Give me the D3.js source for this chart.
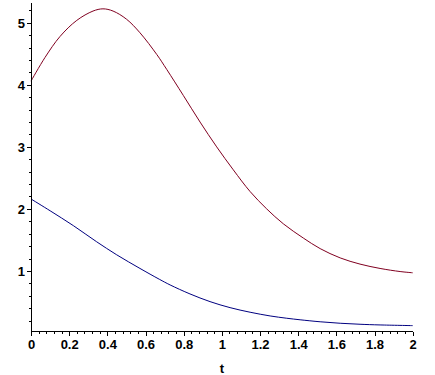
<!DOCTYPE html>
<html>
<head>
<meta charset="utf-8">
<script src="https://cdn.jsdelivr.net/npm/d3@7"></script>
<style>
    body { margin: 0; background: #fff; }
    svg { display: block; }
    .tick text { font-family: "Liberation Sans", Arial, sans-serif; font-weight: bold; font-size: 13px; }
</style>
</head>
<body>
<script>
// values
var tRed = [0, 0.073, 0.152, 0.24, 0.325, 0.377, 0.43, 0.50, 0.571, 0.659, 0.711, 0.798, 0.886,
            0.973, 1.06, 1.148, 1.235, 1.322, 1.427, 1.515, 1.62, 1.724, 1.829, 1.934, 2.0],
    redValues = [4.06, 4.44, 4.78, 5.04, 5.19, 5.226, 5.19, 5.06, 4.84, 4.49, 4.25, 3.83, 3.40,
                 3.0, 2.63, 2.28, 2.0, 1.76, 1.53, 1.36, 1.21, 1.11, 1.04, 0.99, 0.97];

var tBlue = [0, 0.10, 0.222, 0.344, 0.449, 0.571, 0.672, 0.729, 0.833, 0.938, 1.043, 1.148,
             1.253, 1.34, 1.41, 1.515, 1.62, 1.724, 1.829, 2.0],
    blueValues = [2.16, 1.97, 1.73, 1.47, 1.26, 1.04, 0.866, 0.774, 0.629, 0.505, 0.408, 0.334,
                  0.274, 0.237, 0.212, 0.18, 0.156, 0.14, 0.129, 0.118];

var xTicks = [0, 0.2, 0.4, 0.6, 0.8, 1, 1.2, 1.4, 1.6, 1.8, 2],
    yTicks = [1, 2, 3, 4, 5],
    xLabel = 't';

var width = 435,
    height = 375;

var svg = d3.select('body').append('svg')
    .attr('width', width)
    .attr('height', height);

var x = d3.scaleLinear().domain([0, 2]).range([31, 412.7]),
    y = d3.scaleLinear().domain([0.02, 5.32]).range([331.7, 3]);

function toPoints(ts, vals) {
    return ts.map(function(t, i) { return [t, vals[i]]; });
}

var line = d3.line()
    .curve(d3.curveCatmullRom.alpha(0.5))
    .x(function(d) { return x(d[0]); })
    .y(function(d) { return y(d[1]); });

svg.append('path')
    .datum(toPoints(tRed, redValues))
    .attr('d', line)
    .attr('fill', 'none')
    .attr('stroke', '#800020')
    .attr('stroke-width', 1);

svg.append('path')
    .datum(toPoints(tBlue, blueValues))
    .attr('d', line)
    .attr('fill', 'none')
    .attr('stroke', '#000080')
    .attr('stroke-width', 1);

// minor ticks first, majors drawn over them
var xMinor = d3.range(0, 2.0001, 0.04),
    yMinor = d3.range(0.2, 5.3, 0.2);

var xAxisY = y(0.02),
    yAxisX = x(0);

var gx = svg.append('g')
    .attr('transform', 'translate(0,' + xAxisY + ')');

gx.append('g')
    .call(d3.axisBottom(x).tickValues(xMinor).tickSize(2).tickFormat(''))
    .call(function(g) { g.select('.domain').remove(); });

gx.append('g')
    .call(d3.axisBottom(x).tickValues(xTicks).tickSize(4).tickPadding(2)
        .tickFormat(function(d) { return d3.format('')(d); }))
    .call(function(g) {
        g.select('.domain').attr('d', 'M' + x(0) + ',0H' + x(2));
        g.selectAll('.tick text').attr('dy', '0.9em');
    });

var gy = svg.append('g')
    .attr('transform', 'translate(' + yAxisX + ',0)');

gy.append('g')
    .call(d3.axisLeft(y).tickValues(yMinor).tickSize(2).tickFormat(''))
    .call(function(g) { g.select('.domain').remove(); });

gy.append('g')
    .call(d3.axisLeft(y).tickValues(yTicks).tickSize(4).tickPadding(2).tickFormat(d3.format('d')))
    .call(function(g) {
        g.select('.domain').attr('d', 'M0,' + y(5.32) + 'V' + xAxisY);
    });

svg.selectAll('.tick line, .domain').attr('shape-rendering', 'crispEdges');

svg.append('text')
    .attr('x', x(1))
    .attr('y', 373)
    .attr('text-anchor', 'middle')
    .style('font-family', '"Liberation Sans", Arial, sans-serif')
    .style('font-weight', 'bold')
    .style('font-size', '13px')
    .text(xLabel);
</script>
</body>
</html>
